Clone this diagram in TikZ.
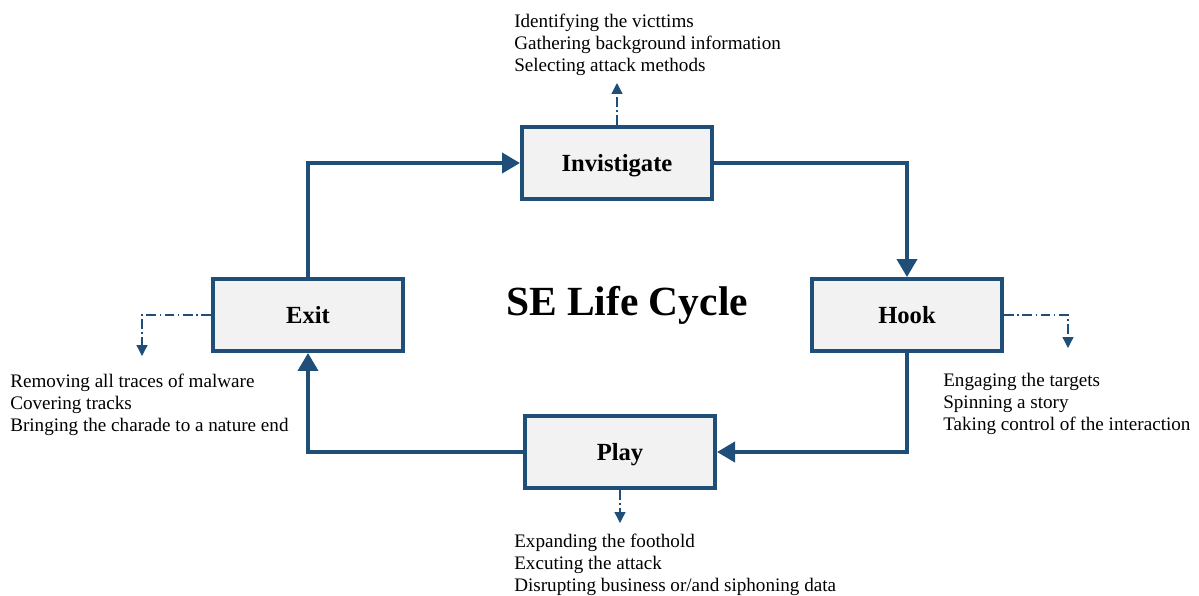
\documentclass[tikz,border=0pt]{standalone}
\usepackage{fontspec}
\setmainfont{Liberation Serif}
\usetikzlibrary{arrows.meta}
\definecolor{cycleblue}{RGB}{31,78,121}
\definecolor{boxgray}{RGB}{242,242,242}
\begin{document}
\begin{tikzpicture}[x=0.025cm,y=-0.025cm,font=\fontsize{13.6}{15.6}\selectfont,
  stage/.style={draw=cycleblue,line width=2.8pt,fill=boxgray,minimum width=4.75cm,
    minimum height=1.8cm,text depth=0pt,font=\fontsize{17.5}{20}\selectfont\bfseries},
  flow/.style={draw=cycleblue,line width=2.8pt,-{Triangle[length=0.45cm,width=0.5cm]}},
  hint/.style={draw=cycleblue,line width=0.9pt,
    dash pattern=on 7pt off 2.5pt on 1pt off 2.5pt,
    -{Triangle[length=0.27cm,width=0.27cm]}},
  notes/.style={align=left,anchor=north west,inner sep=0pt}]
  \useasboundingbox (0,0) rectangle (1199,595);
  % the four stages
  \foreach \id/\x/\y/\name in {inv/617/163/Invistigate,hook/907/315/Hook,
      play/620/452/Play,exit/308/315/Exit}{
    \node[stage] (\id) at (\x,\y) {\name};
  }
  \node[font=\fontsize{29.5}{33}\selectfont\bfseries,text depth=0pt] (title) at (627,301) {SE Life Cycle};
  % cycle
  \draw[flow] (inv.east) -| (hook.north);
  \draw[flow] (hook.south) |- (play.east);
  \draw[flow] (play.west) -| (exit.south);
  \draw[flow] (exit.north) |- (inv.west);
  % details of each stage
  \coordinate (invtip) at (617,83);
  \coordinate (exittip) at (142,356);
  \coordinate (hooktip) at (1068,348);
  \coordinate (playtip) at (620,523);
  \draw[hint] (inv.north) -- (invtip);
  \draw[hint] (exit.west) -| (exittip);
  \draw[hint] (hook.east) -| (hooktip);
  \draw[hint] (play.south) -- (playtip);
  \node[notes] (invnotes) at (514,14) {Identifying the victtims\\Gathering background information\\Selecting attack methods};
  \node[notes] (exitnotes) at (10,374) {Removing all traces of malware\\Covering tracks\\Bringing the charade to a nature end};
  \node[notes] (hooknotes) at (943,373) {Engaging the targets\\Spinning a story\\Taking control of the interaction};
  \node[notes] (playnotes) at (514,534) {Expanding the foothold\\Excuting the attack\\Disrupting business or/and siphoning data};
\end{tikzpicture}
\end{document}
